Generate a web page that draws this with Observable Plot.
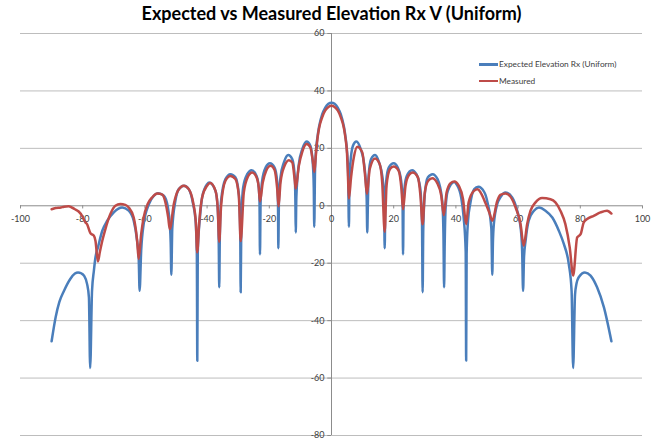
<!DOCTYPE html>
<html>
<head>
<meta charset="utf-8">
<script src="https://cdn.jsdelivr.net/npm/d3@7"></script>
<script src="https://cdn.jsdelivr.net/npm/@observablehq/plot@0.6"></script>
<style>
  body { margin: 0; background: #fff; }
  #wrap { position: relative; width: 661px; height: 439px; font-family: Lato, "Open Sans", sans-serif; }
  #legend { position: absolute; left: 479px; top: 56px; font-size: 8.3px; color: #404040; line-height: 16.5px; }
  #legend .row { display: flex; align-items: center; white-space: nowrap; }
  #legend .sw { width: 19px; height: 2.5px; margin-right: 1px; }
</style>
</head>
<body>
<div id="wrap"><div id="legend"></div></div>
<script>
const title = "Expected vs Measured Elevation Rx V (Uniform)";
const seriesNames = ["Expected Elevation Rx (Uniform)", "Measured"];
const seriesColors = ["#4a7ebb", "#be4b48"];
const xTicks = [-100, -80, -60, -40, -20, 0, 20, 40, 60, 80, 100];
const yTicks = [-80, -60, -40, -20, 0, 20, 40, 60];

const expectedAngle = [
  -90, -88.7, -87.5, -86, -84, -82.5, -81.5, -80.5, -79.6, -78.6, -78.0, -77.6, -77.0, -76.4, -75.9, -75.1,
  -73.7, -72.1, -70.0, -68.5, -67.3, -65.2, -63.6, -62.5, -62.0, -61.7, -61.2, -60.4, -58.7, -57.1, -55.8,
  -53.9, -52.6, -52.0, -51.7, -51.5, -51.2, -50.2, -49.1, -47.4, -45.9, -44.5, -43.7, -43.3, -43.15, -43.0,
  -42.3, -41.6, -40.0, -39.3, -37.3, -36.6, -36.25, -36.1, -35.9, -35.5, -34.1, -32.5, -30.9, -29.8, -29.35,
  -29.2, -29.0, -28.4, -27.1, -25.7, -24.1, -23.4, -23.15, -23.0, -22.8, -22.3, -21.2, -19.8, -18.3, -17.5,
  -17.2, -17.1, -16.9, -16.4, -15.3, -13.9, -12.6, -11.8, -11.6, -11.5, -11.3, -10.5, -9.4, -8.0, -6.8, -6.0,
  -5.7, -5.55, -5.3, -5.0, -4.5, -4.0, -3.0, -2.0, -1.0, 0,
  1.0, 2.0, 3.0, 4.0, 4.5, 5.0, 5.35, 5.6, 5.75, 6.05, 6.9, 8.0, 9.4, 10.5, 11.3, 11.5, 11.7, 11.9, 12.7,
  14.0, 15.3, 16.4, 16.9, 17.1, 17.3, 17.6, 18.4, 20.0, 21.3, 22.4, 22.85, 23.0, 23.2, 23.5, 24.2, 25.9, 27.3,
  28.5, 29.1, 29.3, 29.5, 30.0, 31.0, 32.5, 34.1, 35.6, 36.0, 36.2, 36.4, 36.7, 37.4, 39.5, 40.2, 41.7, 42.5,
  43.15, 43.3, 43.45, 43.9, 44.6, 45.9, 47.2, 49.1, 50.2, 51.4, 51.7, 51.9, 52.2, 53.3, 54.3, 56.0, 58.1,
  59.7, 60.8, 61.3, 61.6, 61.9, 62.4, 63.4, 65.1, 66.7, 68.8, 71.0, 73.1, 74.7, 76.3, 77.2, 77.7, 78.3,
  78.8, 79.5, 81.5, 83.3, 85.4, 87.6, 90.0
];
const expectedDb = [
  -47.2, -38.8, -33.5, -29.6, -25.5, -23.6, -23.2, -23.5, -24.3, -27.2, -31.9, -56.5, -29.6, -22.6, -18.0, -14.5,
  -8.7, -5.2, -2.3, -1.0, -0.6, -1.7, -5.2, -12.2, -18.0, -29.6, -15.7, -6.4, 0.6, 3.5, 4.4,
  3.5, -0.6, -6.4, -13.0, -24.0, -8.0, 1.7, 5.8, 7.0, 5.8, 0.6, -5.2, -16.7, -54.0, -16.0,
  -4.1, 2.9, 7.5, 8.1, 5.2, -0.6, -13.3, -28.4, -10.0, 1.7, 9.3, 11.0, 9.9, 4.1, -8.7,
  -30.1, -6.0, 6.4, 11.0, 12.4, 10.4, 6.4, 1.7, -16.9, 1.0, 8.7, 13.3, 14.8, 13.3, 8.7,
  0.7, -14.8, 2.0, 9.9, 15.1, 17.7, 16.2, 9.9, 0.6, -9.3, 3.0, 14.5, 19.7, 22.4, 20.9, 14.5,
  6.4, -7.3, 12.0, 19.0, 24.0, 27.5, 31.8, 34.2, 35.5, 35.9,
  35.5, 34.2, 31.8, 27.5, 24.0, 19.0, 12.0, -7.3, 6.4, 14.5, 20.9, 22.4, 19.7, 14.5, 3.0, -9.3, 0.6, 9.9, 16.2,
  17.7, 15.1, 9.9, 2.0, -14.8, 0.7, 8.7, 13.3, 14.8, 13.3, 8.7, 1.0, -16.9, 1.7, 6.4, 10.4, 12.4, 11.0,
  6.4, -6.0, -30.1, -8.7, 4.1, 9.9, 11.0, 9.3, 1.7, -10.0, -28.4, -13.3, -0.6, 5.2, 8.3, 7.5, 2.9, -4.1,
  -16.0, -53.9, -16.7, -5.2, 0.6, 5.8, 6.6, 4.8, 1.0, -8.0, -24.0, -13.0, -6.4, 0.6, 2.9, 4.6, 2.9,
  -1.7, -7.5, -15.7, -29.6, -18.0, -12.2, -5.2, -1.7, -0.6, -1.7, -4.1, -8.7, -13.3, -20.3, -29.6, -56.5, -31.0,
  -27.0, -24.9, -23.2, -24.3, -28.4, -35.4, -47.2
];

const measuredAngle = [
  -90, -88.7, -87, -86, -84.5, -83.5, -82.5, -81.3, -80.2, -79.1, -78.6, -77.5, -76.4, -75.9, -75.1, -74.5,
  -73.7, -72.7, -71.1, -69.5, -67.9, -66.3, -65.2, -63.6, -62.5, -62.0, -61.2, -60.4, -59.1, -57.7, -56.0,
  -54.4, -53.4, -52.5, -52.0, -50.7, -49.4, -47.5, -45.9, -44.5, -43.6, -43.2, -42.5, -41.6, -40.0, -39.0,
  -37.3, -36.6, -36.1, -35.5, -34.1, -32.5, -30.9, -29.8, -29.2, -28.2, -26.9, -25.5, -24.1, -23.4, -23.0,
  -22.1, -21.0, -19.6, -18.3, -17.5, -17.0, -16.4, -15.1, -13.7, -12.6, -11.8, -11.5, -10.5, -9.4, -8.0,
  -6.8, -6.0, -5.5, -5.0, -4.5, -4.0, -3.0, -2.0, -1.0, 0,
  1.0, 2.0, 3.0, 4.0, 4.5, 5.0, 5.3, 5.6, 6.3, 7.2, 8.3, 9.9, 10.7, 11.4, 12.3, 14.0, 15.5, 16.3, 17.1, 17.7,
  18.8, 20.0, 21.6, 22.5, 23.0, 23.8, 24.9, 26.1, 27.8, 28.6, 29.3, 30.0, 31.1, 32.4, 34.0, 35.3, 36.1, 37.0,
  38.3, 39.5, 40.9, 42.3, 43.3, 44.1, 45.8, 47.0, 48.0, 49.5, 50.8, 51.7, 53.3, 54.3, 56.0, 57.6, 59.2, 60.8,
  61.8, 62.9, 64.0, 65.6, 67.7, 70.4, 72.0, 73.6, 75.2, 76.6, 77.7, 79.0, 80.1, 81.1, 82.2, 84.3, 86.5, 88.6, 90.0
];
const measuredDb = [
  -1.2, -0.8, -0.6, -0.3, -0.2, -0.6, -1.2, -2.0, -3.5, -5.8, -6.4, -9.6, -10.4, -12.2, -19.4, -16.2,
  -12.2, -8.1, -2.9, 0.0, 0.6, 0.3, -0.6, -4.1, -12.2, -18.5, -9.9, -4.1, 0.6, 2.9, 4.3,
  3.9, 1.2, -4.1, -8.1, 0.6, 5.2, 7.0, 5.8, 1.2, -6.0, -16.2, -5.2, 2.9, 7.0, 7.9,
  5.2, -0.6, -12.5, 0.0, 8.7, 10.4, 9.3, 3.5, -12.3, 4.6, 10.1, 11.6, 9.9, 6.4, 1.5,
  8.1, 12.2, 13.9, 12.5, 6.4, -0.2, 8.1, 13.9, 15.9, 15.1, 8.7, 6.0, 13.9, 18.8, 21.5,
  20.3, 15.6, 11.8, 18.0, 23.5, 27.0, 30.8, 33.2, 34.4, 34.8,
  34.4, 33.2, 30.8, 27.0, 23.5, 18.0, 10.0, 2.5, 10.0, 17.0, 20.6, 18.6, 11.6, 4.1, 12.8, 16.5, 14.5, 8.1, -9.0, 7.0,
  12.8, 13.7, 12.2, 5.8, -1.2, 7.0, 10.7, 11.6, 9.9, 3.5, -6.4, 4.6, 8.7, 9.6, 7.9, 3.5, -3.2, 4.6,
  7.9, 8.5, 7.0, 2.3, -6.4, 1.2, 5.2, 5.8, 4.5, 1.0, -2.5, -5.2, 1.7, 3.8, 4.3, 3.1, -0.6, -6.4,
  -13.9, -6.4, -1.7, 1.2, 2.7, 2.3, 1.2, -1.7, -6.4, -14.5, -24.3, -11.0, -9.9, -5.8, -4.6, -3.5, -2.3, -1.7, -2.7
];

const gridColor = "#bdbdbd";
const axisColor = "#8c8c8c";
const labelColor = "#404040";

const chart = Plot.plot({
  width: 661,
  height: 439,
  marginLeft: 20,
  marginRight: 19,
  marginTop: 33,
  marginBottom: 4,
  x: {domain: [-100, 100], axis: null},
  y: {domain: [-80, 60], axis: null},
  style: {fontFamily: "Lato, 'Open Sans', sans-serif", background: "#fff", overflow: "visible"},
  marks: [
    Plot.ruleY(yTicks.filter(d => d !== 0), {stroke: gridColor, strokeWidth: 1}),
    Plot.ruleY([0], {stroke: axisColor, strokeWidth: 1}),
    Plot.ruleX([0], {stroke: axisColor, strokeWidth: 1}),
    Plot.ruleX(xTicks, {x: d => d, y1: 0, y2: -1.1, stroke: axisColor}),
    Plot.ruleY(yTicks, {y: d => d, x1: 0, x2: -1.2, stroke: axisColor}),
    Plot.text(xTicks, {x: d => d, y: 0, dy: 13, text: d => String(d), fontSize: 9, fill: labelColor}),
    Plot.text(yTicks, {x: 0, y: d => d, dx: -7, textAnchor: "end", text: d => String(d), fontSize: 9, fill: labelColor}),
    Plot.line(expectedDb, {x: expectedAngle, y: expectedDb, stroke: seriesColors[0], strokeWidth: 2.5, curve: "monotone-x", strokeLinejoin: "round"}),
    Plot.line(measuredDb, {x: measuredAngle, y: measuredDb, stroke: seriesColors[1], strokeWidth: 2.5, curve: "monotone-x", strokeLinejoin: "round"}),
    Plot.text([title], {frameAnchor: "top", lineAnchor: "middle", dy: -19, fontSize: 18, fontWeight: "bold", fill: "#000"})
  ]
});

const wrap = document.getElementById("wrap");
wrap.insertBefore(chart, wrap.firstChild);

const legend = document.getElementById("legend");
seriesNames.forEach((name, i) => {
  const row = document.createElement("div");
  row.className = "row";
  const sw = document.createElement("div");
  sw.className = "sw";
  sw.style.background = seriesColors[i];
  const label = document.createElement("span");
  label.textContent = name;
  row.appendChild(sw);
  row.appendChild(label);
  legend.appendChild(row);
});
</script>
</body>
</html>
